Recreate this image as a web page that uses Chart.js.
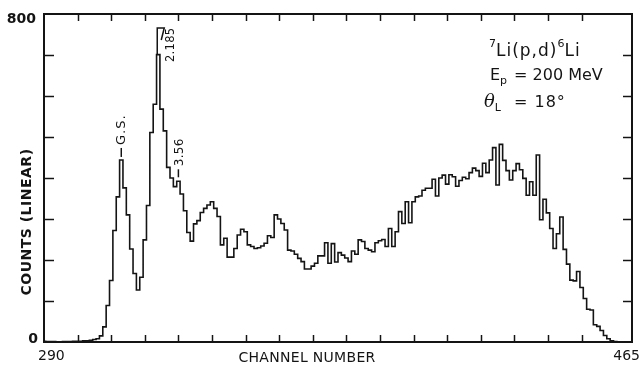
<!DOCTYPE html>
<html>
<head>
<meta charset="utf-8">
<script src="https://cdn.jsdelivr.net/npm/chart.js@4.4.1/dist/chart.umd.min.js"></script>
<style>
  html, body { margin: 0; padding: 0; background: #fff; }
  #wrap { width: 644px; height: 369px; position: relative; }
</style>
</head>
<body>
<div id="wrap"><canvas id="spectrum" width="644" height="369"></canvas></div>
<script>
// 7Li(p,d)6Li spectrum, one count value per channel from 290 to 465
const channelStart = 290;
const channelEnd = 465;
const counts = [
  2, 1, 1, 1, 0, 0, 1, 1, 1, 2,                 // 290-299
  2, 2, 3, 3, 4, 6, 8, 15, 37, 89,              // 300-309
  150, 272, 354, 444, 376, 310, 227, 167, 127, 158, // 310-319
  249, 333, 511, 580, 701, 568, 515, 426, 400, 379, // 320-329
  392, 361, 320, 267, 246, 288, 296, 316, 326, 334, // 330-339
  342, 326, 306, 237, 253, 207, 207, 228, 261, 275, // 340-349
  269, 237, 233, 228, 230, 234, 241, 259, 255, 310, // 350-359
  300, 289, 273, 224, 222, 214, 204, 196, 178, 178, // 360-369
  185, 192, 210, 210, 242, 192, 240, 195, 218, 212, // 370-379
  205, 196, 222, 214, 249, 245, 228, 224, 220, 242, // 380-389
  247, 250, 233, 277, 233, 269, 318, 289, 342, 291, // 390-399
  342, 354, 356, 370, 375, 375, 397, 356, 400, 407, // 400-409
  385, 408, 403, 380, 394, 402, 398, 413, 424, 418, // 410-419
  404, 436, 413, 444, 474, 383, 482, 443, 418, 395, // 420-429
  418, 435, 420, 399, 358, 391, 358, 456, 298, 348, // 430-439
  315, 277, 228, 264, 305, 226, 190, 151, 149, 172, // 440-449
  133, 106, 80, 78, 42, 38, 28, 16, 8, 3,          // 450-459
  1, 0, 0, 0, 0, 0                                 // 460-465
];
const channels = counts.map((_, i) => channelStart + i);

// axis range and the tick values that carry a printed label
const countMax = 800;
const xEdgeLabels = ['290', '465'];
const yEdgeLabels = ['0', '800'];
const xTitle = 'CHANNEL NUMBER';
const yTitle = 'COUNTS (LINEAR)';

// labelled states of 6Li
const peakNames = ['G.S.', '2.185', '3.56'];
const peakChannels = [313, 324, 330];

const INK = '#141414';
const FONT = 'DejaVu Sans';

function vText(ctx, text, x, y, font, spacing) {
  // text rotated to read upwards, starting at (x, y)
  ctx.save();
  ctx.translate(x, y);
  ctx.rotate(-Math.PI / 2);
  ctx.font = font;
  ctx.letterSpacing = spacing || '0px';
  ctx.textAlign = 'left';
  ctx.textBaseline = 'middle';
  ctx.fillText(text, 0, 0);
  ctx.restore();
}

function richText(ctx, parts, x, y) {
  let cx = x;
  parts.forEach(p => {
    ctx.font = p.font;
    ctx.letterSpacing = p.spacing || '0px';
    ctx.textAlign = 'left';
    ctx.textBaseline = 'alphabetic';
    ctx.fillText(p.t, cx + (p.dx || 0), y + (p.dy || 0));
    cx += ctx.measureText(p.t).width + (p.dx || 0) + (p.gap || 0);
  });
  ctx.letterSpacing = '0px';
}

const spectrumDecor = {
  id: 'spectrumDecor',
  afterDatasetsDraw(chart) {
    const { ctx, chartArea: a, scales: { x, y } } = chart;
    ctx.save();
    ctx.strokeStyle = INK;
    ctx.fillStyle = INK;
    ctx.lineCap = 'butt';

    // frame
    ctx.lineWidth = 2;
    ctx.strokeRect(a.left, a.top, a.right - a.left, a.bottom - a.top);

    // inward tick marks on all four sides
    ctx.lineWidth = 1.5;
    const seg = (x1, y1, x2, y2) => { ctx.beginPath(); ctx.moveTo(x1, y1); ctx.lineTo(x2, y2); ctx.stroke(); };
    x.ticks.forEach(t => {
      if (t.value <= x.min || t.value >= x.max) return;
      const px = Math.round(x.getPixelForValue(t.value)) + 0.5;
      seg(px, a.bottom, px, a.bottom - 7);
      seg(px, a.top, px, a.top + 7);
    });
    y.ticks.forEach(t => {
      if (t.value <= y.min || t.value >= y.max) return;
      const py = Math.round(y.getPixelForValue(t.value)) + 0.5;
      seg(a.left, py, a.left + 10, py);
      seg(a.right, py, a.right - 9, py);
    });

    // edge tick labels
    ctx.font = 'bold 14px ' + FONT;
    ctx.textBaseline = 'middle';
    ctx.textAlign = 'right';
    ctx.fillText(yEdgeLabels[0], a.left - 6, y.getPixelForValue(+yEdgeLabels[0]) - 3);
    ctx.fillText(yEdgeLabels[1], a.left - 8, y.getPixelForValue(+yEdgeLabels[1]) + 5);
    ctx.font = '14px ' + FONT;
    ctx.textBaseline = 'alphabetic';
    ctx.textAlign = 'left';
    ctx.fillText(xEdgeLabels[0], x.getPixelForValue(+xEdgeLabels[0]) - 6, a.bottom + 18);
    ctx.textAlign = 'right';
    ctx.fillText(xEdgeLabels[1], x.getPixelForValue(+xEdgeLabels[1]) + 8, a.bottom + 18);

    // axis titles
    ctx.font = '14px ' + FONT;
    ctx.letterSpacing = '0.3px';
    ctx.textAlign = 'center';
    ctx.fillText(xTitle, a.left + 263, a.bottom + 20);
    ctx.letterSpacing = '0px';
    ctx.save();
    ctx.translate(a.left - 17, a.top + 208);
    ctx.rotate(-Math.PI / 2);
    ctx.font = 'bold 14px ' + FONT;
    ctx.letterSpacing = '0.5px';
    ctx.textAlign = 'center';
    ctx.textBaseline = 'middle';
    ctx.fillText(yTitle, 0, 0);
    ctx.restore();

    // state labels above the peaks
    ctx.lineWidth = 1.5;
    peakNames.forEach((name, i) => {
      const ch = peakChannels[i];
      const v = counts[ch - channelStart];
      const px = x.getPixelForValue(ch);
      const py = y.getPixelForValue(v);
      if (name === '2.185') {
        ctx.beginPath();
        ctx.moveTo(px - 1, py);
        ctx.lineTo(px - 1, a.top + 14);
        ctx.lineTo(px + 6, a.top + 14);
        ctx.lineTo(px + 3, a.top + 26);
        ctx.stroke();
        vText(ctx, name, px + 13, a.top + 48, '11.5px ' + FONT, '0.3px');
      } else if (name === 'G.S.') {
        seg(px, py - 3, px, py - 12);
        vText(ctx, name, px, py - 15, '13px ' + FONT, '1px');
      } else {
        seg(px, py - 4, px, py - 12);
        vText(ctx, name, px + 1, py - 15, '12px ' + FONT, '0.3px');
      }
    });

    // reaction annotation
    const lx = a.left + 445;
    const small = '11px ' + FONT;
    richText(ctx, [
      { t: '7', font: small, dy: -9 },
      { t: 'Li(p,d)', font: '17px ' + FONT, spacing: '1px' },
      { t: '6', font: small, dy: -9 },
      { t: 'Li', font: '17px ' + FONT, spacing: '1px' }
    ], lx, a.top + 42);
    richText(ctx, [
      { t: 'E', font: '16px ' + FONT },
      { t: 'p', font: small, dy: 4, gap: 7 },
      { t: '= 200 MeV', font: '16px ' + FONT }
    ], lx + 1, a.top + 66);
    richText(ctx, [
      { t: '\u03B8', font: 'italic 18px DejaVu Serif' },
      { t: 'L', font: small, dy: 4, gap: 13 },
      { t: '= 18\u00B0', font: '16px ' + FONT, spacing: '1px' }
    ], lx - 5, a.top + 93);

    ctx.restore();
  }
};

new Chart(document.getElementById('spectrum').getContext('2d'), {
  type: 'line',
  data: {
    datasets: [{
      data: channels.map((c, i) => ({ x: c, y: counts[i] })),
      stepped: 'middle',
      borderColor: INK,
      borderWidth: 1.6,
      pointRadius: 0,
      fill: false
    }]
  },
  options: {
    responsive: false,
    animation: false,
    devicePixelRatio: 1,
    layout: { padding: { left: 0, top: 14, right: 12, bottom: 0 } },
    plugins: { legend: { display: false }, tooltip: { enabled: false } },
    scales: {
      x: {
        type: 'linear', min: channelStart, max: channelEnd,
        ticks: { display: false, stepSize: 10 },
        grid: { display: false }, border: { display: false },
        afterFit(s) { s.height = 27; }
      },
      y: {
        min: 0, max: countMax,
        ticks: { display: false, stepSize: 100 },
        grid: { display: false }, border: { display: false },
        afterFit(s) { s.width = 44; }
      }
    }
  },
  plugins: [spectrumDecor]
});
</script>
</body>
</html>
